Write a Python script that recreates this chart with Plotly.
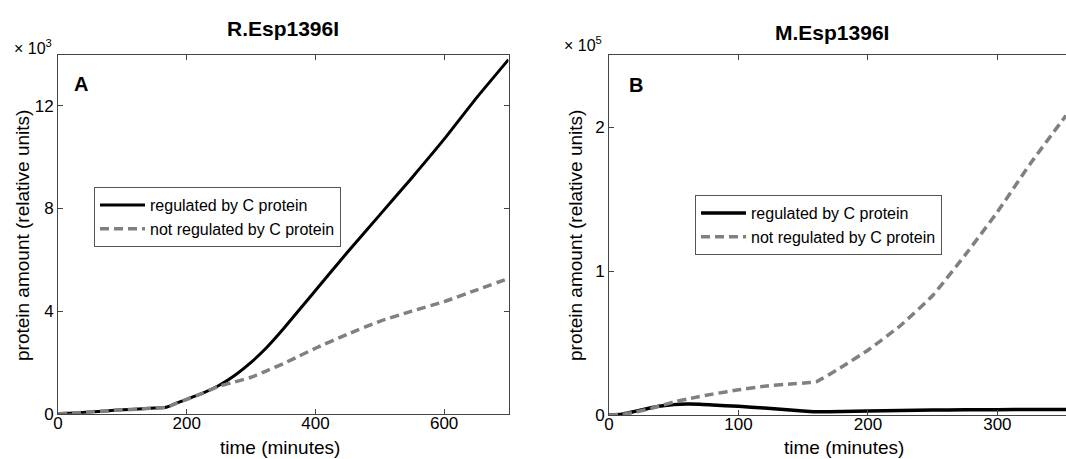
import plotly.graph_objects as go

# ---------------- data ----------------
# Panel A: R.Esp1396I, protein amount in units of 10^3
t_A = [0, 25, 50, 75, 100, 125, 150, 168, 185, 200, 225, 250, 275, 300, 325,
       350, 375, 400, 450, 500, 550, 600, 650, 700]
reg_A = [0, 0.03, 0.07, 0.11, 0.15, 0.18, 0.22, 0.25, 0.42, 0.56, 0.8, 1.1,
         1.5, 2.0, 2.6, 3.3, 4.05, 4.8, 6.3, 7.75, 9.2, 10.7, 12.3, 13.8]
notreg_A = [0, 0.03, 0.07, 0.11, 0.15, 0.18, 0.22, 0.25, 0.42, 0.56, 0.8, 1.07,
            1.24, 1.42, 1.68, 1.95, 2.25, 2.55, 3.1, 3.6, 4.0, 4.37, 4.82, 5.27]

# Panel B: M.Esp1396I, protein amount in units of 10^5
t_B = [0, 10, 20, 30, 40, 50, 60, 70, 80, 100, 120, 140, 155, 160, 180, 200,
       225, 250, 275, 300, 325, 353]
reg_B = [0, 0.005, 0.025, 0.045, 0.062, 0.072, 0.076, 0.075, 0.07, 0.06,
         0.048, 0.035, 0.025, 0.023, 0.024, 0.027, 0.032, 0.035, 0.036, 0.037,
         0.038, 0.038]
notreg_B = [0, 0.003, 0.02, 0.04, 0.065, 0.09, 0.11, 0.128, 0.145, 0.175, 0.2,
            0.215, 0.225, 0.23, 0.335, 0.45, 0.62, 0.83, 1.11, 1.41, 1.74, 2.08]

xticks_A = [0, 200, 400, 600]
yticks_A = [0, 4, 8, 12]
xticks_B = [0, 100, 200, 300]
yticks_B = [0, 1, 2]

name_reg = "regulated by C protein"
name_notreg = "not regulated by C protein"

# ---------------- figure ----------------
W, H = 1066, 459
FONT = "Arial, Liberation Sans, sans-serif"
AX = "#444444"
GRAY = "#808080"

fig = go.Figure()

fig.add_trace(go.Scatter(x=t_A, y=reg_A, mode="lines", name=name_reg,
                         line=dict(color="black", width=3, shape="spline", smoothing=0.5),
                         xaxis="x", yaxis="y", legend="legend"))
fig.add_trace(go.Scatter(x=t_A, y=notreg_A, mode="lines", name=name_notreg,
                         line=dict(color=GRAY, width=3.5, dash="9px,5px", shape="spline", smoothing=0.5),
                         xaxis="x", yaxis="y", legend="legend"))
fig.add_trace(go.Scatter(x=t_B, y=reg_B, mode="lines", name=name_reg,
                         line=dict(color="black", width=3.5, shape="spline", smoothing=0.5),
                         xaxis="x2", yaxis="y2", legend="legend2"))
fig.add_trace(go.Scatter(x=t_B, y=notreg_B, mode="lines", name=name_notreg,
                         line=dict(color=GRAY, width=3.5, dash="9px,5px", shape="spline", smoothing=0.4),
                         xaxis="x2", yaxis="y2", legend="legend2"))


def px(x):
    return x / W


def py(y):
    return (H - y) / H


axis_common = dict(showgrid=False, zeroline=False, showline=True, linecolor=AX,
                   linewidth=1, ticks="inside", ticklen=5, tickcolor=AX,
                   automargin=False,
                   tickfont=dict(family=FONT, size=17, color="black"))

legend_common = dict(xanchor="left", yanchor="top", bgcolor="white",
                     bordercolor="#555555", borderwidth=1,
                     font=dict(family=FONT, size=16, color="black"),
                     itemwidth=45, tracegroupgap=0)

fig.update_layout(
    width=W, height=H,
    margin=dict(l=0, r=0, t=0, b=0, pad=0, autoexpand=False),
    paper_bgcolor="white", plot_bgcolor="white",
    font=dict(family=FONT, color="black"),
    xaxis=dict(domain=[px(58), px(508.5)], range=[0, 700], tickvals=xticks_A,
               mirror="ticks", anchor="y", ticklabelstandoff=-6, **axis_common),
    yaxis=dict(domain=[py(413.7), py(54.5)], range=[0, 14], tickvals=yticks_A,
               mirror="ticks", anchor="x", **axis_common),
    xaxis2=dict(domain=[px(609), 1.0], range=[0, 353], tickvals=xticks_B,
                mirror="ticks", anchor="y2", ticklabelstandoff=-6, **axis_common),
    yaxis2=dict(domain=[py(415), py(55)], range=[0, 2.5], tickvals=yticks_B,
                mirror=False, anchor="x2", **axis_common),
    legend=dict(x=px(94), y=py(187), **legend_common),
    legend2=dict(x=px(695), y=py(195), **legend_common),
    showlegend=True,
)

annotations = [
    dict(text="<b>R.Esp1396I</b>", x=px(283), y=py(28.5), size=21),
    dict(text="<b>M.Esp1396I</b>", x=px(832), y=py(32.5), size=21),
    dict(text="<b>A</b>", x=px(81), y=py(84.5), size=20),
    dict(text="<b>B</b>", x=px(635.5), y=py(85), size=20),
    dict(text="× 10<sup>3</sup>", x=px(33), y=py(47), size=16),
    dict(text="× 10<sup>5</sup>", x=px(583), y=py(44), size=16),
    dict(text="time (minutes)", x=px(280), y=py(447), size=19),
    dict(text="time (minutes)", x=px(843.5), y=py(447), size=19),
    dict(text="protein amount (relative units)", x=px(22), y=py(236), size=19, angle=-90),
    dict(text="protein amount (relative units)", x=px(575), y=py(236), size=19, angle=-90),
]
for a in annotations:
    fig.add_annotation(text=a["text"], x=a["x"], y=a["y"], xref="paper", yref="paper",
                       xanchor="center", yanchor="middle", showarrow=False,
                       textangle=a.get("angle", 0),
                       font=dict(family=FONT, size=a["size"], color="black"))

fig.write_html("out.html", config={"displayModeBar": False},
               post_script="document.body.style.margin='0';document.body.style.overflow='hidden';")
